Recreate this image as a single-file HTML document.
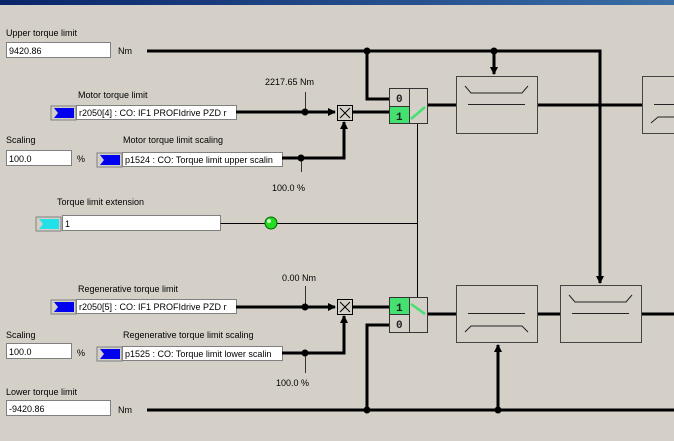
<!DOCTYPE html>
<html><head><meta charset="utf-8"><style>
html,body{margin:0;padding:0;background:#d4d0c8;}
svg{display:block;font-family:"Liberation Sans",sans-serif;font-size:9px;}
</style></head><body>
<svg width="674" height="441" viewBox="0 0 674 441" xmlns="http://www.w3.org/2000/svg">
<defs>
<linearGradient id="tb" x1="0" x2="1"><stop offset="0" stop-color="#0a246a"/><stop offset="1" stop-color="#3a6ea5"/></linearGradient>
<marker id="ah" markerWidth="8" markerHeight="8" refX="7" refY="4" orient="auto" markerUnits="userSpaceOnUse"><path d="M0,0 L8,4 L0,8 z" fill="#000"/></marker>
<g id="btn"><rect x="0" y="0" width="25" height="14" fill="#d4d0c8" stroke="#808080"/><path d="M3,2 L23,2 L23,12 L3,12 L7,7 z" fill="#0000ee"/></g>
<g id="btnc"><rect x="0" y="0" width="25" height="14" fill="#d4d0c8" stroke="#808080"/><path d="M3,2 L23,2 L23,12 L3,12 L7,7 z" fill="#22e0e8"/></g>
</defs>
<rect x="0" y="0" width="674" height="5" fill="url(#tb)"/>

<g fill="#000">
<text x="6" y="36">Upper torque limit</text>
<text x="78" y="98">Motor torque limit</text>
<text x="6" y="143">Scaling</text>
<text x="123" y="143">Motor torque limit scaling</text>
<text x="57" y="205">Torque limit extension</text>
<text x="78" y="292">Regenerative torque limit</text>
<text x="6" y="338">Scaling</text>
<text x="123" y="338">Regenerative torque limit scaling</text>
<text x="6" y="395">Lower torque limit</text>
<text x="118" y="54">Nm</text>
<text x="77" y="162">%</text>
<text x="77" y="356">%</text>
<text x="118" y="413">Nm</text>
<text x="265" y="85">2217.65 Nm</text>
<text x="272" y="191">100.0 %</text>
<text x="282" y="281">0.00 Nm</text>
<text x="276" y="386">100.0 %</text>
</g>

<g fill="#fff" stroke="#808080">
<rect x="6.5" y="42.5" width="104" height="15"/>
<rect x="76.5" y="105.5" width="160" height="14"/>
<rect x="6.5" y="150.5" width="65" height="15"/>
<rect x="122.5" y="152.5" width="160" height="14"/>
<rect x="62.5" y="215.5" width="158" height="15"/>
<rect x="76.5" y="299.5" width="160" height="14"/>
<rect x="6.5" y="343.5" width="65" height="15"/>
<rect x="122.5" y="346.5" width="160" height="14"/>
<rect x="6.5" y="400.5" width="104" height="15"/>
</g>
<g fill="#000">
<text x="9" y="54">9420.86</text>
<text x="79" y="116">r2050[4] : CO: IF1 PROFIdrive PZD r</text>
<text x="9" y="162">100.0</text>
<text x="125" y="163">p1524 : CO: Torque limit upper scalin</text>
<text x="65" y="227">1</text>
<text x="79" y="310">r2050[5] : CO: IF1 PROFIdrive PZD r</text>
<text x="9" y="355">100.0</text>
<text x="125" y="357">p1525 : CO: Torque limit lower scalin</text>
<text x="9" y="412">-9420.86</text>
</g>
<use href="#btn" x="51" y="106"/>
<use href="#btn" x="97" y="153"/>
<use href="#btnc" x="36" y="217"/>
<use href="#btn" x="51" y="300"/>
<use href="#btn" x="97" y="347"/>

<g stroke="#000" stroke-width="1" fill="none">
<path d="M220.5,223.5 H417.5 M417.5,123 V297"/>
<path d="M305.5,92 V112 M301.5,158 V172 M305.5,286 V307 M305.5,353 V373" stroke="#333"/>
</g>
<circle cx="271" cy="223" r="6" fill="#22dd22" stroke="#006600"/>
<circle cx="269" cy="221" r="2" fill="#c8ffc8"/>

<g stroke="#000" stroke-width="3" fill="none">
<path d="M147,51 H600 V283" marker-end="url(#ah)"/>
<path d="M367,51 V99 H389"/>
<path d="M494,51 V74" marker-end="url(#ah)"/>
<path d="M236,112 H335" marker-end="url(#ah)"/>
<path d="M353,112 H389"/>
<path d="M282,158 H344 V122" marker-end="url(#ah)"/>
<path d="M428,105 H456 M537,105 H642"/>
<path d="M147,410 H674"/>
<path d="M367,410 V325 H389"/>
<path d="M498,410 V345" marker-end="url(#ah)"/>
<path d="M236,307 H335" marker-end="url(#ah)"/>
<path d="M353,307 H389"/>
<path d="M282,353 H344 V316" marker-end="url(#ah)"/>
<path d="M428,314 H456 M537,314 H560 M641,314 H674"/>
</g>
<g fill="#000">
<circle cx="367" cy="51" r="3.5"/><circle cx="494" cy="51" r="3.5"/>
<circle cx="305" cy="112" r="3.5"/><circle cx="301" cy="158" r="3.5"/>
<circle cx="305" cy="307" r="3.5"/><circle cx="305" cy="353" r="3.5"/>
<circle cx="367" cy="410" r="3.5"/><circle cx="498" cy="410" r="3.5"/>
</g>

<g stroke="#000" fill="#d4d0c8">
<rect x="337.5" y="105.5" width="15" height="15"/>
<path d="M340,108 L350,118 M350,108 L340,118"/>
<rect x="337.5" y="299.5" width="15" height="15"/>
<path d="M340,302 L350,312 M350,302 L340,312"/>
</g>

<g stroke="#333" fill="#d4d0c8">
<rect x="389.5" y="88.5" width="38" height="35"/>
<rect x="389.5" y="106.5" width="20" height="17" fill="#44e070"/>
<path d="M409.5,88.5 V123.5"/>
<rect x="389.5" y="297.5" width="38" height="35"/>
<rect x="389.5" y="297.5" width="20" height="17" fill="#44e070"/>
<path d="M409.5,297.5 V332.5"/>
</g>
<g font-family="Liberation Mono,monospace" font-weight="bold" font-size="11px" fill="#222">
<text x="396" y="102">0</text><text x="396" y="120">1</text>
<text x="396" y="311">1</text><text x="396" y="328">0</text>
</g>
<g stroke="#44e070" stroke-width="2.5">
<path d="M411,119 L425,107"/>
<path d="M411,304 L425,314"/>
</g>

<g stroke="#444" fill="#d4d0c8">
<rect x="456.5" y="76.5" width="81" height="57"/>
<rect x="642.5" y="76.5" width="40" height="57"/>
<rect x="456.5" y="285.5" width="81" height="57"/>
<rect x="560.5" y="285.5" width="81" height="57"/>
</g>
<g stroke="#222" fill="none">
<path d="M465,86 L471,93 H522 L528,86 M468,104.5 H525"/>
<path d="M654,104.5 H674 M651,123 L658,117 H674"/>
<path d="M468,313.5 H525 M465,332 L471,326 H522 L528,332"/>
<path d="M569,295 L575,302 H626 L632,295 M572,313.5 H629"/>
</g>
</svg>
</body></html>
